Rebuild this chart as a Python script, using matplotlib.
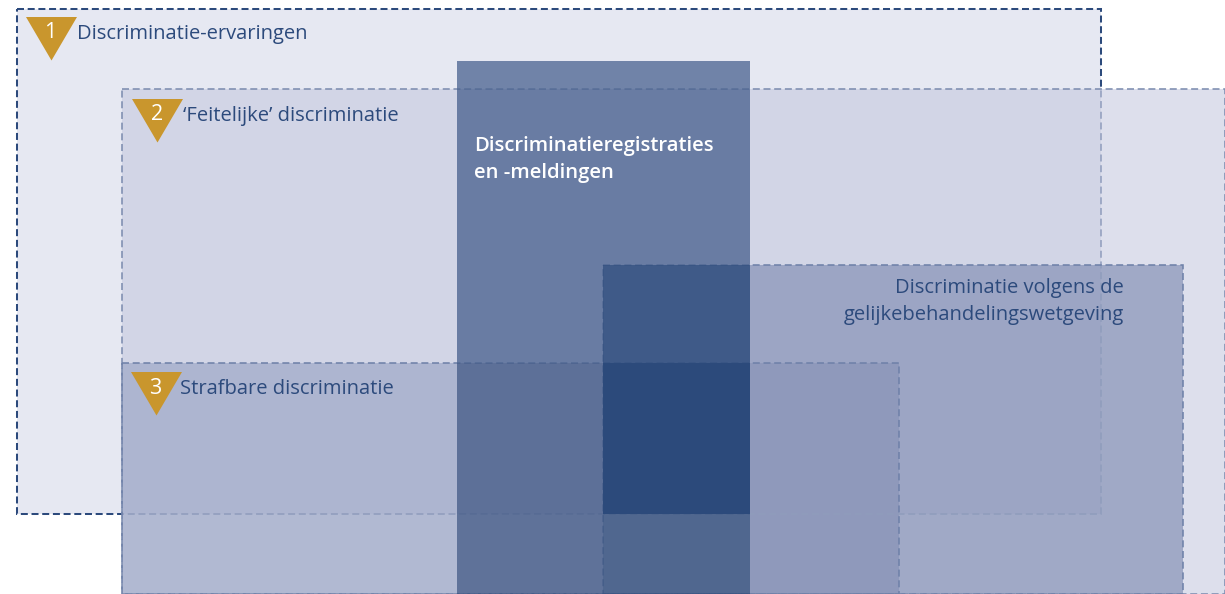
import matplotlib
matplotlib.use("Agg")
import matplotlib.pyplot as plt
from matplotlib.patches import Polygon, Rectangle

WIDTH = 1225
HEIGHT = 594
NAVY = "#2c4a7c"
GOLD = "#c9962d"

# boxes as left, top, right, bottom in picture pixels
box_ervaringen = (17, 9, 1101, 514)
box_feitelijk = (122, 89, 1225, 594.4)
box_wetgeving = (603, 265, 1183, 594.4)
box_strafbaar = (122, 363, 899, 594.4)
box_column = (457, 61, 750, 594)

# the overlaps are not a plain alpha stack, so each one gets its own flat colour
background_cells = [
    ((122, 89, 1225, 594), "#dddfec"),
    ((122, 89, 1101, 514), "#d2d5e6"),
    ((603, 265, 1183, 594), "#a0a9c6"),
    ((603, 265, 1101, 514), "#9ca5c4"),
    ((122, 363, 899, 594), "#b1b9d2"),
    ((122, 363, 899, 514), "#adb5d0"),
    ((603, 363, 899, 594), "#8f99bb"),
]
column_cells = [
    ((457, 61, 750, 89), "#7083a8"),
    ((457, 89, 750, 363), "#697ca3"),
    ((603, 265, 750, 363), "#3f5a88"),
    ((457, 363, 603, 514), "#5d7098"),
    ((457, 514, 603, 594), "#5f7299"),
    ((603, 363, 750, 514), "#2c4a7b"),
    ((603, 514, 750, 594), "#50678f"),
]

marker_left = [26, 132, 131]
marker_top = [17, 99, 372]
marker_labels = ["1", "2", "3"]
marker_captions = ["Discriminatie-ervaringen", "‘Feitelijke’ discriminatie", "Strafbare discriminatie"]
caption_x = [77, 183, 180]
caption_y = [34.5, 115.5, 389]

plt.rcParams["font.family"] = ["Open Sans", "DejaVu Sans"]

fig = plt.figure(figsize=(WIDTH / 100, HEIGHT / 100), dpi=100)
ax = fig.add_axes([0, 0, 1, 1])
ax.set_xlim(0, WIDTH)
ax.set_ylim(HEIGHT, 0)
ax.axis("off")


def make_rect(box, **kwargs):
    return Rectangle((box[0], box[1]), box[2] - box[0], box[3] - box[1], **kwargs)


def fill_box(box, color, zorder):
    ax.add_patch(make_rect(box, facecolor=color, edgecolor="none", linewidth=0, zorder=zorder))


def dash_box(box, color, width, zorder, alpha=1.0, clip=None):
    patch = make_rect(box, fill=False, edgecolor=color, linewidth=width, alpha=alpha,
                      linestyle=(0, (7.0 / (width * 1.39), 3.7 / (width * 1.39))), zorder=zorder)
    ax.add_patch(patch)
    if clip is not None:
        patch.set_clip_path(make_rect(clip, transform=ax.transData))


fill_box(box_ervaringen, "#e6e8f2", 1)
dash_box(box_ervaringen, NAVY, 1.45, 2)

for box, color in background_cells:
    fill_box(box, color, 3)

dash_box(box_ervaringen, "#8f9cbc", 1.1, 4, clip=box_feitelijk)
dash_box(box_feitelijk, "#7d8db0", 1.15, 4)
dash_box(box_wetgeving, "#6f81a9", 1.15, 4)
dash_box(box_strafbaar, "#6f81a9", 1.15, 4)

for box, color in column_cells:
    fill_box(box, color, 5)

dash_box(box_ervaringen, NAVY, 1.1, 6, alpha=0.15, clip=box_column)
for box in [box_feitelijk, box_wetgeving, box_strafbaar]:
    dash_box(box, NAVY, 1.15, 6, alpha=0.35, clip=box_column)

for i in range(len(marker_labels)):
    x = marker_left[i]
    y = marker_top[i]
    ax.add_patch(Polygon([(x, y), (x + 51, y), (x + 25.5, y + 43.5)], closed=True,
                         facecolor=GOLD, edgecolor="none", zorder=8))
    ax.text(x + 24.6, y + 16, marker_labels[i], color="white", fontsize=15.5,
            ha="center", va="center", zorder=9)
    ax.text(caption_x[i], caption_y[i], marker_captions[i], color=NAVY, fontsize=14.5,
            ha="left", va="center", zorder=9)

ax.text(1124, 301.5, "Discriminatie volgens de\ngelijkebehandelingswetgeving", color=NAVY, fontsize=14.5,
        ha="right", va="center", linespacing=1.42, zorder=9)
ax.text(474, 159.5, "Discriminatieregistraties\nen -meldingen", color="white", fontsize=14.6, fontweight="semibold",
        ha="left", va="center", linespacing=1.42, zorder=9)

fig.savefig("out.png", dpi=100)
